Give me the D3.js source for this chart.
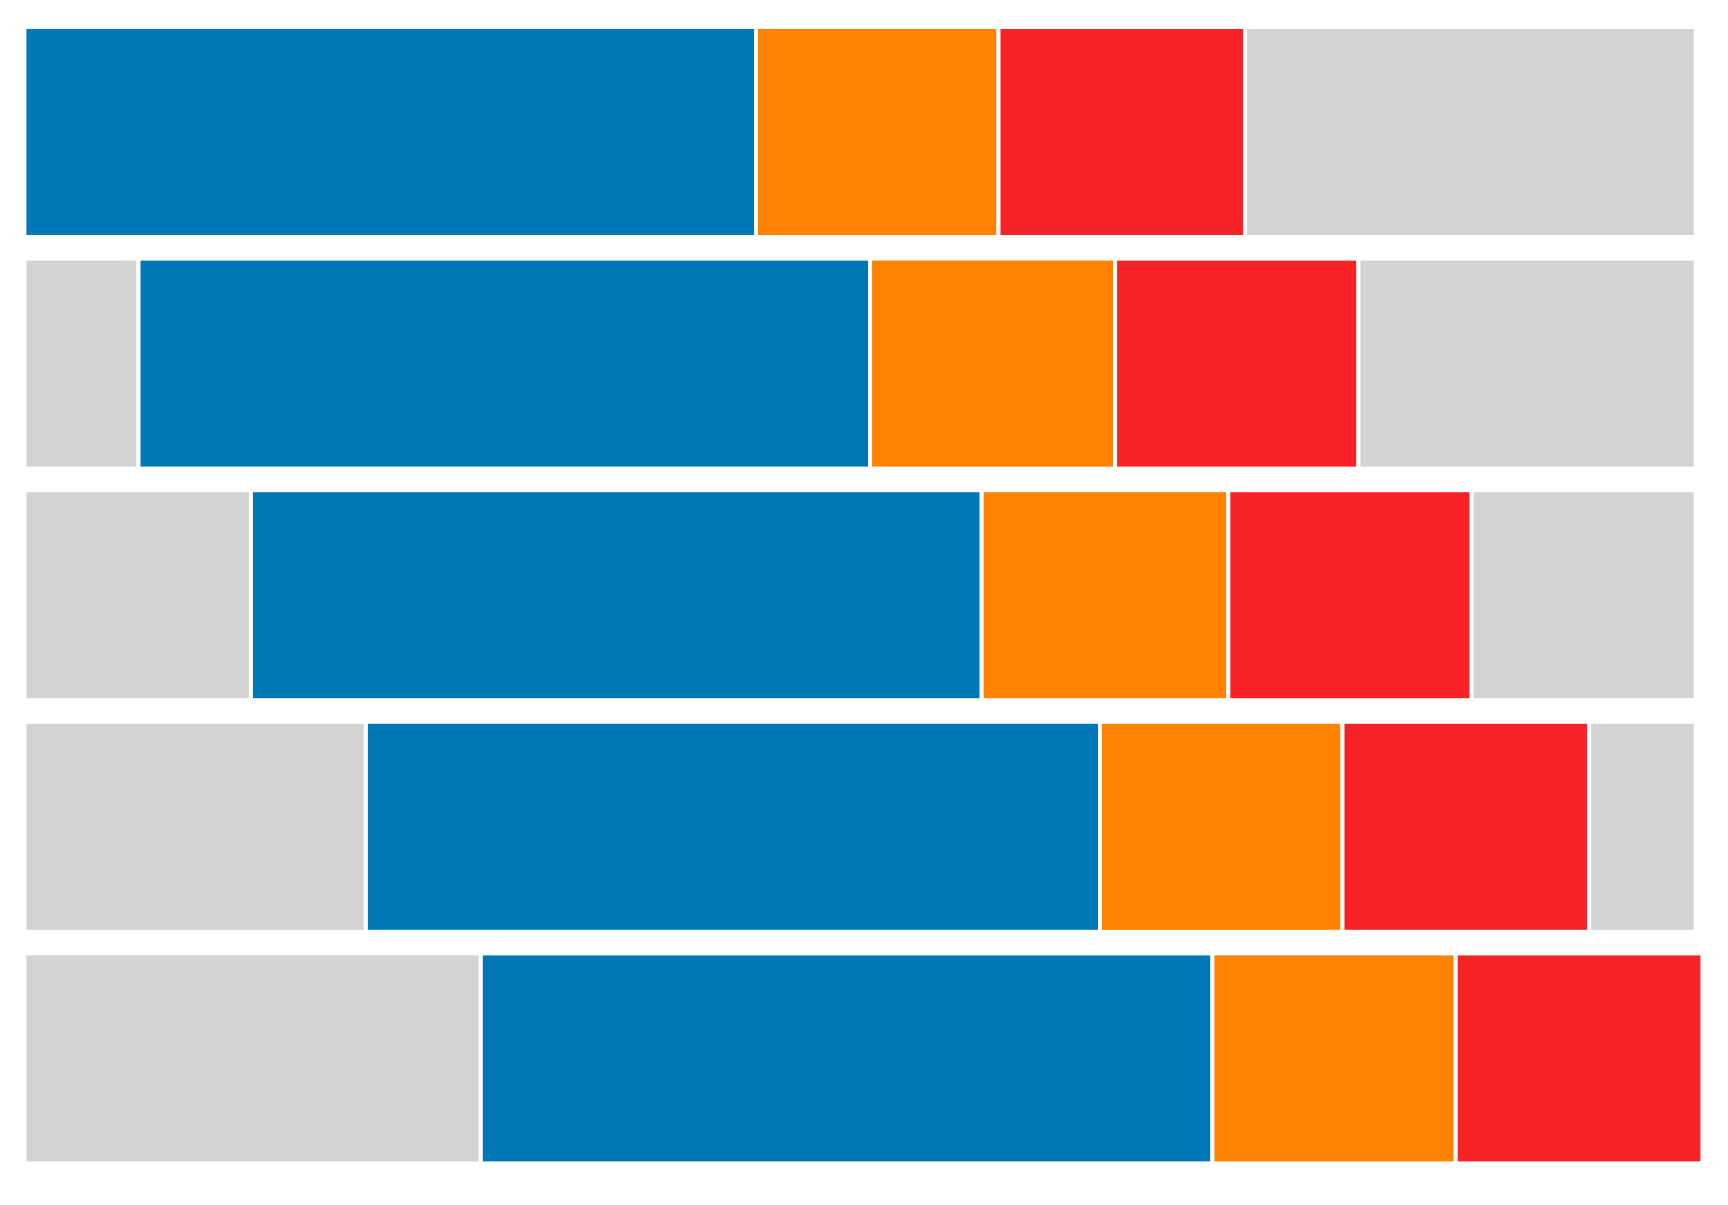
<!DOCTYPE html>
<html>
<head>
<meta charset="utf-8">
<script src="https://cdn.jsdelivr.net/npm/d3@7"></script>
<style>
  html, body { margin: 0; padding: 0; background: #ffffff; }
  svg { display: block; }
</style>
</head>
<body>
<svg id="chart" width="1728" height="1205"></svg>
<script>
// Data (units: percent of the longest row)
const categories   = ["Row 1", "Row 2", "Row 3", "Row 4", "Row 5"];
const leadGray     = [0.0, 6.8, 13.5, 20.35, 27.2];
const blueValues   = [43.6, 43.6, 43.55, 43.75, 43.6];
const orangeValues = [14.45, 14.6, 14.7, 14.45, 14.5];
const redValues    = [14.7, 14.5, 14.5, 14.7, 14.7];
const trailGray    = [26.85, 20.1, 13.35, 6.35, 0.0];

const keys = ["lead", "blue", "orange", "red", "trail"];
const colors = ["#d3d3d3", "#0078b7", "#ff8200", "#f72226", "#d3d3d3"];

const table = categories.map((c, i) => ({
  cat: c,
  lead: leadGray[i],
  blue: blueValues[i],
  orange: orangeValues[i],
  red: redValues[i],
  trail: trailGray[i]
}));

const svg = d3.select("#chart");

const x = d3.scaleLinear().domain([0, 100]).range([24.4, 1702.4]);
const y = d3.scaleBand().domain(categories).range([27, 1163.4])
  .paddingInner(0.0933).paddingOuter(0);
const color = d3.scaleOrdinal().domain(keys).range(colors);

const series = d3.stack().keys(keys)(table);

svg.append("g")
  .selectAll("g")
  .data(series)
  .join("g")
    .attr("fill", d => color(d.key))
  .selectAll("rect")
  .data(d => d.filter(s => s[1] - s[0] > 0))
  .join("rect")
    .attr("x", d => x(d[0]))
    .attr("y", d => y(d.data.cat))
    .attr("width", d => x(d[1]) - x(d[0]))
    .attr("height", y.bandwidth())
    .attr("stroke", "#ffffff")
    .attr("stroke-width", 4);
</script>
</body>
</html>
